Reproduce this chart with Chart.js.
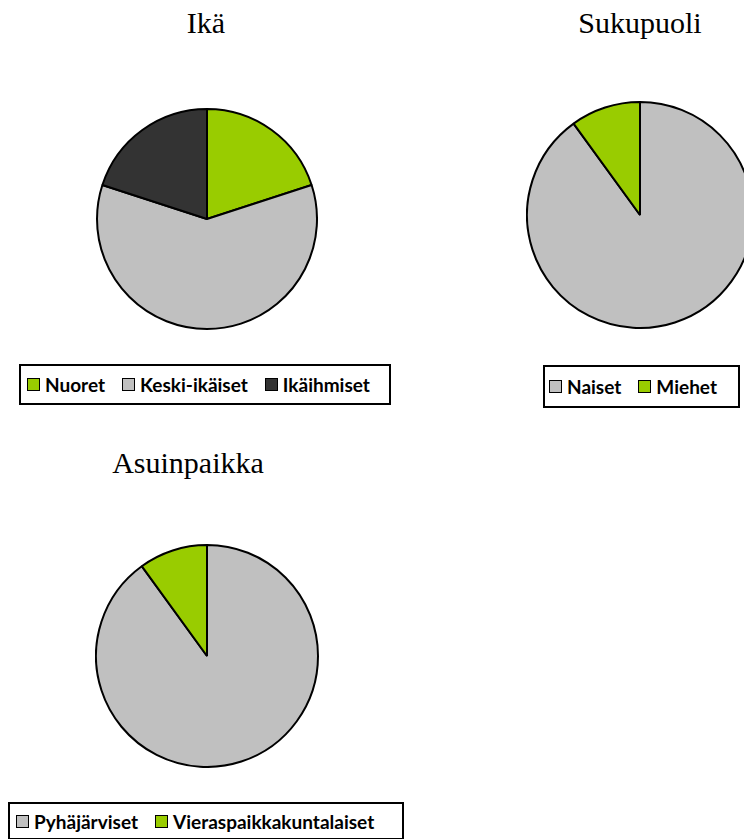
<!DOCTYPE html>
<html>
<head>
<meta charset="utf-8">
<script src="https://cdn.jsdelivr.net/npm/chart.js@4"></script>
<style>
  html, body { margin: 0; padding: 0; background: #fff; width: 744px; height: 839px; overflow: hidden; position: relative; }
  .title { position: absolute; font-family: "Liberation Serif", "Times New Roman", serif; font-size: 30px; line-height: 30px; color: #000; transform: translateX(-50%); white-space: nowrap; }
  .pie { position: absolute; }
  .legend { position: absolute; border: 2px solid #000; box-sizing: border-box; display: flex; align-items: center; justify-content: flex-start; padding-left: 6px;
            font-family: Lato, "Open Sans", sans-serif; font-weight: bold; font-size: 19px; color: #000; white-space: nowrap; }
  .item { display: flex; align-items: center; margin-right: 17px; }
  .sw { width: 11px; height: 11px; border: 1.5px solid #000; margin-right: 5px; }
</style>
</head>
<body>
<div class="title" style="left:206px; top:8px;">Ikä</div>
<div class="title" style="left:640px; top:8px;">Sukupuoli</div>
<div class="title" style="left:188px; top:448px;">Asuinpaikka</div>

<canvas id="ageChart" class="pie" width="222" height="222" style="left:96px; top:108px;"></canvas>
<canvas id="genderChart" class="pie" width="228" height="228" style="left:526px; top:101px;"></canvas>
<canvas id="homeChart" class="pie" width="224" height="224" style="left:95px; top:544px;"></canvas>

<div id="ageLegend" class="legend" style="left:19px; top:364px; width:372px; height:41px;"></div>
<div id="genderLegend" class="legend" style="left:543px; top:365px; width:197px; height:43px; padding-left:4px;"></div>
<div id="homeLegend" class="legend" style="left:8px; top:802px; width:396px; height:38px;"></div>

<script>
// Ikä
const ageLabels = ['Nuoret', 'Keski-ikäiset', 'Ikäihmiset'];
const ageValues = [20, 60, 20];
const ageColors = ['#99CC00', '#C0C0C0', '#333333'];

// Sukupuoli
const genderLabels = ['Naiset', 'Miehet'];
const genderValues = [90, 10];
const genderColors = ['#C0C0C0', '#99CC00'];

// Asuinpaikka
const homeLabels = ['Pyhäjärviset', 'Vieraspaikkakuntalaiset'];
const homeValues = [90, 10];
const homeColors = ['#C0C0C0', '#99CC00'];

function makePie(id, labels, values, colors) {
    return new Chart(document.getElementById(id), {
        type: 'pie',
        data: {
            labels: labels,
            datasets: [{
                data: values,
                backgroundColor: colors,
                borderColor: '#000',
                borderWidth: 2,
                hoverOffset: 0,
            }]
        },
        options: {
            responsive: false,
            animation: false,
            layout: { padding: 0, autoPadding: false },
            plugins: {
                legend: { display: false },
                tooltip: { enabled: false },
            },
        }
    });
}

function makeLegend(id, labels, colors) {
    const el = document.getElementById(id);
    labels.forEach((label, i) => {
        const item = document.createElement('div');
        item.className = 'item';
        const sw = document.createElement('div');
        sw.className = 'sw';
        sw.style.background = colors[i];
        const txt = document.createElement('span');
        txt.textContent = label;
        item.appendChild(sw);
        item.appendChild(txt);
        el.appendChild(item);
    });
}

makePie('ageChart', ageLabels, ageValues, ageColors);
makePie('genderChart', genderLabels, genderValues, genderColors);
makePie('homeChart', homeLabels, homeValues, homeColors);

makeLegend('ageLegend', ageLabels, ageColors);
makeLegend('genderLegend', genderLabels, genderColors);
makeLegend('homeLegend', homeLabels, homeColors);
</script>
</body>
</html>
